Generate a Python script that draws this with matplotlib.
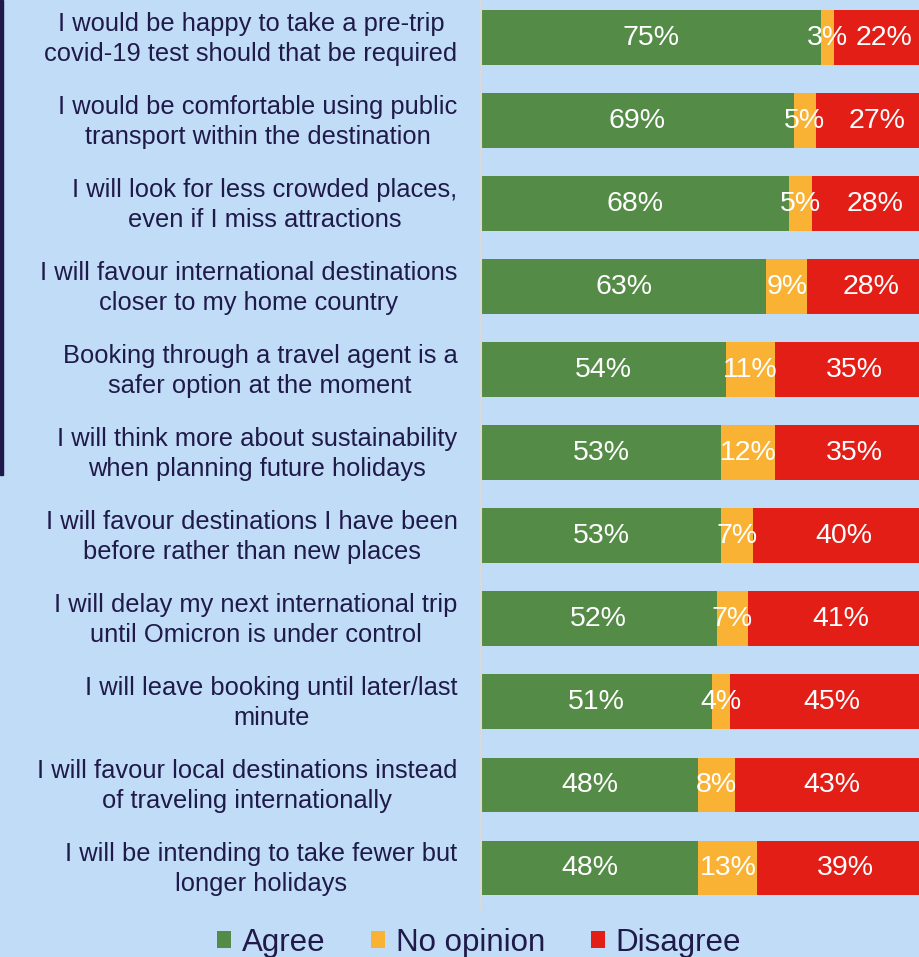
import matplotlib
matplotlib.use("Agg")
import matplotlib.pyplot as plt
from matplotlib.patches import Rectangle
from matplotlib.transforms import ScaledTranslation
import numpy as np

plt.rcParams['font.family'] = ['Liberation Sans', 'DejaVu Sans']

categories = [
    "I would be happy to take a pre-trip\ncovid-19 test should that be required",
    "I would be comfortable using public\ntransport within the destination",
    "I will look for less crowded places,\neven if I miss attractions",
    "I will favour international destinations\ncloser to my home country",
    "Booking through a travel agent is a\nsafer option at the moment",
    "I will think more about sustainability\nwhen planning future holidays",
    "I will favour destinations I have been\nbefore rather than new places",
    "I will delay my next international trip\nuntil Omicron is under control",
    "I will leave booking until later/last\nminute",
    "I will favour local destinations instead\nof traveling internationally",
    "I will be intending to take fewer but\nlonger holidays",
]
agree = [75, 69, 68, 63, 54, 53, 53, 52, 51, 48, 48]
no_opinion = [3, 5, 5, 9, 11, 12, 7, 7, 4, 8, 13]
disagree = [22, 27, 28, 28, 35, 35, 40, 41, 45, 43, 39]
series_names = ["Agree", "No opinion", "Disagree"]

colors = ["#548B46", "#F9B234", "#E31E17"]
bg = "#C0DCF6"
txt = "#1F1A4A"

W, H = 919, 957
fig = plt.figure(figsize=(W/100, H/100), dpi=100)
fig.patch.set_facecolor(bg)

left = 481 / W
width = 453 / W
bottom = 1 - 909.5 / H
top = 1 + 4 / H
ax = fig.add_axes([left, bottom, width, top - bottom])
ax.set_facecolor(bg)

y = np.arange(len(categories))
series = [agree, no_opinion, disagree]
lefts = np.zeros(len(categories))
for vals, col, name in zip(series, colors, series_names):
    vals = np.array(vals, dtype=float)
    ax.barh(y, vals, left=lefts, height=0.66, color=col, label=name)
    for yi, l, v in zip(y, lefts, vals):
        ax.text(l + v / 2, yi, f"{int(v)}%", ha='center', va='center',
                color='white', fontsize=20.5)
    lefts += vals

ax.set_xlim(0, 100)
ax.set_ylim(len(categories) - 0.5, -0.5)
ax.set_xticks([])
ax.set_yticks(y)
ax.set_yticklabels(categories, fontsize=18.4, color=txt, multialignment='center',
                   linespacing=1.3)
ax.tick_params(axis='y', length=0, pad=17)
shift = ScaledTranslation(0, 4 / 100, fig.dpi_scale_trans)
for lab in ax.get_yticklabels():
    lab.set_transform(lab.get_transform() + shift)
for s in ['top', 'right', 'bottom']:
    ax.spines[s].set_visible(False)
ax.spines['left'].set_color('#D9D9D9')
ax.spines['left'].set_linewidth(1.5)

# dark bar at left edge
fig.patches.append(Rectangle((0, 1 - 475 / H), 3 / W, 475 / H,
                             transform=fig.transFigure, color="#1F1A4A", zorder=5))

handles, labels = ax.get_legend_handles_labels()
fig.legend(handles, labels, loc='center', bbox_to_anchor=(479 / W, 1 - 943 / H),
           ncol=3, frameon=False, fontsize=22.5, handlelength=0.45, handleheight=0.45,
           handletextpad=0.35, columnspacing=1.45, labelcolor=txt)

fig.savefig("out.png", dpi=100, facecolor=bg)
